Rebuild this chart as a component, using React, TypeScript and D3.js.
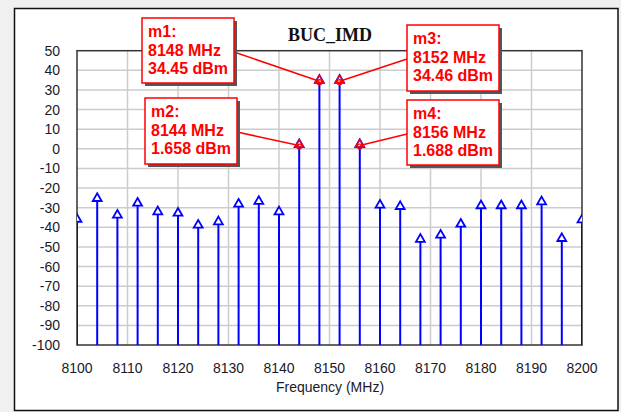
import * as d3 from "d3";
import { useEffect, useRef } from "react";

// spectrum, 4 MHz spacing
const freqs = [
  8100, 8104, 8108, 8112, 8116, 8120, 8124, 8128, 8132, 8136, 8140, 8144, 8148,
  8152, 8156, 8160, 8164, 8168, 8172, 8176, 8180, 8184, 8188, 8192, 8196, 8200,
];
const levels = [
  -36.4, -25.8, -34.3, -28.2, -32.6, -33.3, -39.4, -37.7, -28.7, -27.3, -32.6,
  1.658, 34.45, 34.46, 1.688, -29.2, -29.9, -46.6, -44.5, -38.9, -29.5, -29.5,
  -29.5, -27.5, -46.2, -36.7,
];

const markerNames = ["m1", "m2", "m3", "m4"];
const markerFreqs = [8148, 8144, 8152, 8156];
const markerLevels = [34.45, 1.658, 34.46, 1.688];

const xTicks = [8100, 8110, 8120, 8130, 8140, 8150, 8160, 8170, 8180, 8190, 8200];
const yTicks = [50, 40, 30, 20, 10, 0, -10, -20, -30, -40, -50, -60, -70, -80, -90, -100];

// marker box layout: x, y, w, h, line anchor
const boxes = [
  { x: 142, y: 18, w: 92, h: 65, ax: 234, ay: 52 },
  { x: 145, y: 98, w: 92, h: 66, ax: 237, ay: 132 },
  { x: 407, y: 25, w: 92, h: 66, ax: 407, ay: 59 },
  { x: 407, y: 100, w: 92, h: 65, ax: 407, ay: 134 },
];

const App = () => {
  const ref = useRef<SVGSVGElement>(null);

  useEffect(() => {
    const svg = d3.select(ref.current);
    svg.selectAll("*").remove();

    const W = 621, H = 412;
    const left = 77, right = 582, top = 50.7, bottom = 345;

    const x = d3.scaleLinear().domain([8100, 8200]).range([left, right]);
    const y = d3.scaleLinear().domain([-100, 50]).range([bottom, top]);

    svg.append("rect").attr("width", W).attr("height", H).attr("fill", "#f0f0f0");
    svg.append("rect")
      .attr("x", 14.5).attr("y", 8.5).attr("width", 603.5).attr("height", 402)
      .attr("fill", "white").attr("stroke", "#111").attr("stroke-width", 1.5);

    // grid
    const grid = svg.append("g").attr("stroke", "#cccccc").attr("stroke-width", 1.5);
    grid.selectAll(".gx").data(xTicks.slice(1, -1)).enter().append("line")
      .attr("x1", d => x(d)).attr("x2", d => x(d)).attr("y1", top).attr("y2", bottom);
    grid.selectAll(".gy").data(yTicks.slice(1, -1)).enter().append("line")
      .attr("x1", left).attr("x2", right).attr("y1", d => y(d)).attr("y2", d => y(d));

    svg.append("rect")
      .attr("x", left).attr("y", top).attr("width", right - left).attr("height", bottom - top)
      .attr("fill", "none").attr("stroke", "#333").attr("stroke-width", 1.5);

    // tick labels
    svg.append("g").selectAll("text").data(yTicks).enter().append("text")
      .attr("x", 60).attr("y", d => y(d) + 5)
      .attr("text-anchor", "end")
      .attr("font-family", "Liberation Sans, Arial, sans-serif")
      .attr("font-size", 14).attr("fill", "#1a1a2a")
      .text(d => d);
    svg.append("g").selectAll("text").data(xTicks).enter().append("text")
      .attr("x", d => x(d)).attr("y", 373)
      .attr("text-anchor", "middle")
      .attr("font-family", "Liberation Sans, Arial, sans-serif")
      .attr("font-size", 14).attr("fill", "#1a1a2a")
      .text(d => d);
    svg.append("text")
      .attr("x", 330).attr("y", 392).attr("text-anchor", "middle")
      .attr("font-family", "Liberation Sans, Arial, sans-serif")
      .attr("font-size", 14).attr("fill", "#1a1a2a")
      .text("Frequency (MHz)");

    svg.append("text")
      .attr("x", 330).attr("y", 41).attr("text-anchor", "middle")
      .attr("font-family", "Liberation Serif, Times New Roman, serif")
      .attr("font-weight", "bold").attr("font-size", 18).attr("fill", "#111")
      .text("BUC_IMD");

    // stems
    svg.append("clipPath").attr("id", "plotclip").append("rect")
      .attr("x", left).attr("y", top - 10).attr("width", right - left).attr("height", bottom - top + 10);
    const plot = svg.append("g").attr("clip-path", "url(#plotclip)");
    const pts = freqs.map((f, i) => ({ f, v: levels[i] }));
    plot.selectAll(".stem").data(pts).enter().append("line")
      .attr("x1", d => x(d.f)).attr("x2", d => x(d.f))
      .attr("y1", bottom).attr("y2", d => y(d.v))
      .attr("stroke", "#0000ff").attr("stroke-width", 2);
    const tri = d3.symbol().type(d3.symbolTriangle).size(34);
    plot.selectAll(".tri").data(pts).enter().append("path")
      .attr("d", tri)
      .attr("transform", d => `translate(${x(d.f)},${y(d.v) - 1})`)
      .attr("fill", "white").attr("stroke", "#0000ff").attr("stroke-width", 1.8);

    // markers
    markerNames.forEach((name, i) => {
      const b = boxes[i];
      const mx = x(markerFreqs[i]), my = y(markerLevels[i]);
      svg.append("line")
        .attr("x1", b.ax).attr("y1", b.ay).attr("x2", mx).attr("y2", my)
        .attr("stroke", "#ff0000").attr("stroke-width", 1.5);
      svg.append("path")
        .attr("d", tri)
        .attr("transform", `translate(${mx},${my - 1})`)
        .attr("fill", "none").attr("stroke", "#ff0000").attr("stroke-width", 1.3);
      svg.append("circle").attr("cx", mx).attr("cy", my + 1).attr("r", 2.5)
        .attr("fill", "none").attr("stroke", "#ff0000").attr("stroke-width", 1.2);

      svg.append("rect")
        .attr("x", b.x + 3).attr("y", b.y + 3).attr("width", b.w).attr("height", b.h)
        .attr("fill", "#555");
      svg.append("rect")
        .attr("x", b.x).attr("y", b.y).attr("width", b.w).attr("height", b.h)
        .attr("fill", "white").attr("stroke", "#ff0000").attr("stroke-width", 1.5);
      const lines = [
        `${name}:`,
        `${markerFreqs[i]} MHz`,
        `${markerLevels[i]} dBm`,
      ];
      svg.append("g").selectAll("text").data(lines).enter().append("text")
        .attr("x", b.x + 6).attr("y", (d, j) => b.y + 19 + j * 18.5)
        .attr("font-family", "Liberation Sans, Arial, sans-serif")
        .attr("font-weight", "bold").attr("font-size", 16).attr("fill", "#ff0000")
        .text(d => d);
    });
  }, []);

  return (
    <div style={{ position: "fixed", left: 0, top: 0 }}>
      <svg ref={ref} width={621} height={412} style={{ display: "block" }} />
    </div>
  );
};

export default App;
